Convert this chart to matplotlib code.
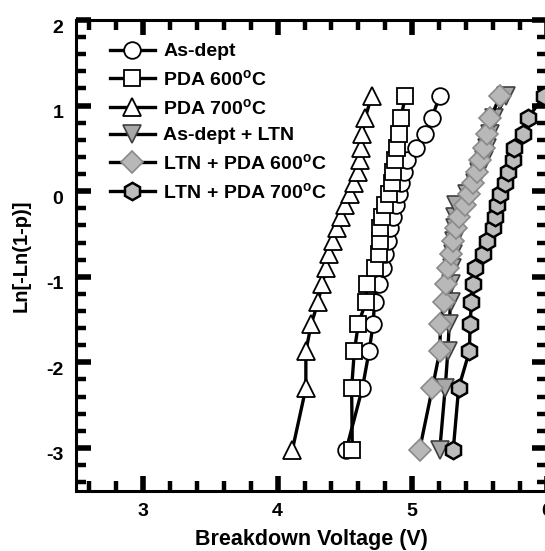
import matplotlib
matplotlib.use("Agg")
import matplotlib.pyplot as plt
import matplotlib.transforms as mtransforms
from matplotlib.ticker import MultipleLocator

plt.rcParams['font.family'] = ['Liberation Sans', 'DejaVu Sans']
plt.rcParams['font.weight'] = 'bold'
plt.rcParams['mathtext.fontset'] = 'custom'
plt.rcParams['mathtext.rm'] = 'Liberation Sans:bold'
plt.rcParams['mathtext.default'] = 'rm'
plt.rcParams['axes.unicode_minus'] = False

# Weibull plotting positions, Ln[-Ln(1-p)], shared by every sample set
weibull_y = [-3.02, -2.30, -1.87, -1.55, -1.30, -1.09, -0.90, -0.735, -0.58, -0.436,
             -0.30, -0.166, -0.036, 0.094, 0.225, 0.361, 0.506, 0.666, 0.855, 1.113]

# breakdown voltages (V), sorted low to high
as_dept = [4.51, 4.63, 4.68, 4.71, 4.72, 4.75, 4.78, 4.80, 4.82, 4.835,
           4.86, 4.88, 4.90, 4.92, 4.94, 4.96, 5.03, 5.095, 5.145, 5.205]
pda_600 = [4.555, 4.55, 4.57, 4.60, 4.655, 4.665, 4.72, 4.755, 4.76, 4.76,
           4.775, 4.80, 4.83, 4.85, 4.86, 4.875, 4.89, 4.90, 4.915, 4.95]
pda_700 = [4.11, 4.21, 4.21, 4.25, 4.30, 4.33, 4.36, 4.38, 4.41, 4.44,
           4.47, 4.50, 4.54, 4.57, 4.60, 4.61, 4.62, 4.63, 4.65, 4.70]
as_dept_ltn = [5.205, 5.245, 5.265, 5.275, 5.285, 5.29, 5.295, 5.30, 5.31, 5.315,
               5.32, 5.325, 5.41, 5.47, 5.50, 5.53, 5.555, 5.58, 5.61, 5.70]
ltn_pda_600 = [5.055, 5.15, 5.205, 5.21, 5.235, 5.25, 5.265, 5.285, 5.305, 5.325,
               5.35, 5.39, 5.42, 5.455, 5.48, 5.505, 5.53, 5.555, 5.58, 5.655]
ltn_pda_700 = [5.305, 5.345, 5.425, 5.43, 5.44, 5.455, 5.465, 5.525, 5.555, 5.60,
               5.615, 5.63, 5.655, 5.69, 5.715, 5.75, 5.76, 5.82, 5.86, 5.98]

labels = ['As-dept', 'PDA 600$^{o}$C', 'PDA 700$^{o}$C', 'As-dept + LTN',
          'LTN + PDA 600$^{o}$C', 'LTN + PDA 700$^{o}$C']

fig = plt.figure(figsize=(5.45, 5.51), dpi=100)
ax = fig.add_axes([0.1389, 0.1094, 0.8644, 0.8543])

styles = [
    (as_dept, dict(marker='o', ms=12, mfc='white', mec='black', mew=1.3)),
    (pda_600, dict(marker='s', ms=11, mfc='white', mec='black', mew=1.3)),
    (pda_700, dict(marker='^', ms=12.5, mfc='white', mec='black', mew=1.3)),
    (as_dept_ltn, dict(marker='v', ms=12.5, mfc='#a8a8a8', mec='#404040', mew=1.2)),
    (ltn_pda_600, dict(marker='D', ms=11, mfc='#b8b8b8', mec='#8a8a8a', mew=1.2)),
    (ltn_pda_700, dict(marker='h', ms=12.5, mfc='#bcbcbc', mec='black', mew=1.8)),
]

for (vals, st), lab in zip(styles, labels):
    ax.plot(vals, weibull_y, color='black', lw=2.4, label=lab, **st)

ax.set_xlim(2.5, 6.0)
ax.set_ylim(-3.5, 2.0)
ax.xaxis.set_major_locator(MultipleLocator(1))
ax.xaxis.set_minor_locator(MultipleLocator(0.2))
ax.yaxis.set_major_locator(MultipleLocator(1))
ax.yaxis.set_minor_locator(MultipleLocator(0.2))

for sp in ax.spines.values():
    sp.set_linewidth(2.2)

ax.tick_params(which='both', direction='in', top=True, right=True)
ax.tick_params(which='major', length=11, width=4.0, labelsize=14, pad=9)
ax.tick_params(which='minor', length=7, width=3.2)
for t in ax.xaxis.get_major_ticks() + ax.yaxis.get_major_ticks() + \
        ax.xaxis.get_minor_ticks() + ax.yaxis.get_minor_ticks():
    for ln in (t.tick1line, t.tick2line):
        ln.set_solid_capstyle('round')

# y labels sit a little below their ticks
shift = mtransforms.ScaledTranslation(0, -0.06, fig.dpi_scale_trans)
for lbl in ax.get_yticklabels():
    lbl.set_transform(lbl.get_transform() + shift)

ax.set_xlabel('Breakdown Voltage (V)', fontsize=15.5, fontweight='bold', labelpad=6)
ax.set_ylabel('Ln[-Ln(1-p)]', fontsize=14.5, fontweight='bold', labelpad=11)

leg = ax.legend(loc='upper left', bbox_to_anchor=(0.056, 0.968), frameon=False,
                fontsize=14, handlelength=2.3, handletextpad=0.45, labelspacing=0.45,
                borderaxespad=0)

fig.savefig('out.png', dpi=100)
